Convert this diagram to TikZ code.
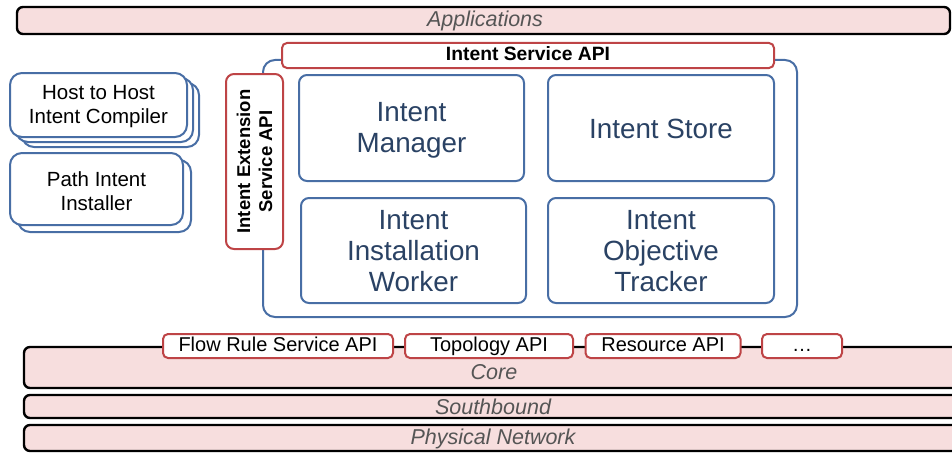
\documentclass[tikz,border=0pt]{standalone}
\usepackage{fontspec}
\setmainfont{Liberation Sans}
\definecolor{pinkfill}{RGB}{247,222,222}
\definecolor{apired}{RGB}{190,68,70}
\definecolor{boxblue}{RGB}{72,110,165}
\definecolor{txtblue}{RGB}{42,66,100}
\definecolor{bargray}{RGB}{85,85,85}
\begin{document}
\begin{tikzpicture}[x=1pt,y=-1pt,
  bar/.style={draw=black,line width=2.4pt,fill=pinkfill,rounded corners=6pt,inner sep=0pt},
  bartext/.style={font=\fontsize{21.5}{23}\selectfont\itshape,text=bargray,inner sep=0pt},
  apibox/.style={draw=apired,line width=2pt,fill=white,rounded corners=5pt,inner sep=0pt,text height=14.5pt,text depth=4pt,font=\fontsize{20}{22}\selectfont},
  inbox/.style={draw=boxblue,line width=2pt,fill=white,rounded corners=8pt,inner sep=0pt,align=center,text=txtblue,font=\fontsize{27.8}{31}\selectfont},
  sidebox/.style={draw=boxblue,line width=2pt,fill=white,rounded corners=12pt,inner sep=0pt,align=center,font=\fontsize{20.5}{24}\selectfont},
]
\useasboundingbox (0,0) rectangle (952,452);
% top bar
\node[bar,minimum width=933pt,minimum height=27pt] (apps) at (483.5,20.5) {};
\node[bartext] (appst) at (485,21) {Applications};
% container
\node[draw=boxblue,line width=2pt,rounded corners=12pt,minimum width=534pt,minimum height=257pt,inner sep=0pt] (cont) at (530,188.5) {};
% service API
\node[apibox,minimum width=492pt,minimum height=25pt,font=\fontsize{19.3}{21}\selectfont\bfseries] (isapi) at (528,55.5) {Intent Service API};
% extension API
\node[apibox,rotate=90,minimum width=175pt,minimum height=57pt,align=center,rounded corners=8pt,text height=,text depth=,font=\fontsize{18.5}{22}\selectfont\bfseries] (ext) at (254.5,161.5) {Intent Extension\\Service API};
% inner boxes
\node[inbox,minimum width=225pt,minimum height=106pt] (mgr) at (411.5,128) {};
\node[inbox,minimum width=226pt,minimum height=106pt] (store) at (661,128) {};
\node[inbox,minimum width=225pt,minimum height=105pt] (worker) at (413.5,250.5) {};
\node[inbox,minimum width=226pt,minimum height=105pt] (tracker) at (661,250.5) {};
\node[inbox,draw=none,fill=none] (mgrt) at ([yshift=-2pt]mgr.center) {Intent\\Manager};
\node[inbox,draw=none,fill=none] (storet) at ([yshift=-1pt]store.center) {Intent Store};
\node[inbox,draw=none,fill=none] (workert) at ([yshift=-1pt]worker.center) {Intent\\Installation\\Worker};
\node[inbox,draw=none,fill=none] (trackert) at ([yshift=-1pt]tracker.center) {Intent\\Objective\\Tracker};
% left stacked boxes
\node[sidebox,minimum width=177pt,minimum height=64pt] (h2hc) at (110.5,115) {};
\node[sidebox,minimum width=177pt,minimum height=64pt] (h2hb) at (104.5,110) {};
\node[sidebox,minimum width=177pt,minimum height=64pt] (h2h) at (98.5,105) {};
\node[sidebox,draw=none,fill=none] (h2ht) at ([yshift=-2pt]h2h.center) {Host to Host\\Intent Compiler};
\node[sidebox,minimum width=173pt,minimum height=72pt] (pathb) at (104.5,196) {};
\node[sidebox,minimum width=173pt,minimum height=72pt] (path) at (96.5,189) {};
\node[sidebox,draw=none,fill=none] (patht) at ([yshift=-2pt]path.center) {Path Intent\\Installer};
% bottom bars
\node[bar,minimum width=936pt,minimum height=41pt] (core) at (492,367.5) {};
\node[bartext] (coret) at (494,372) {Core};
\node[bar,minimum width=936pt,minimum height=23pt] (south) at (492,406.5) {};
\node[bartext] (southt) at (493,407) {Southbound};
\node[bar,minimum width=936pt,minimum height=26pt] (phys) at (492,438) {};
\node[bartext] (physt) at (493,439) {Physical Network};
% API boxes on core
\node[apibox,minimum width=230pt,minimum height=24pt] (flow) at (278,346) {Flow Rule Service API};
\node[apibox,minimum width=168pt,minimum height=24pt] (topo) at (489,346) {Topology API};
\node[apibox,minimum width=155pt,minimum height=24pt] (res) at (663,346) {Resource API};
\node[apibox,minimum width=80pt,minimum height=24pt] (dots) at (802,346) {\dots};
\end{tikzpicture}
\end{document}
